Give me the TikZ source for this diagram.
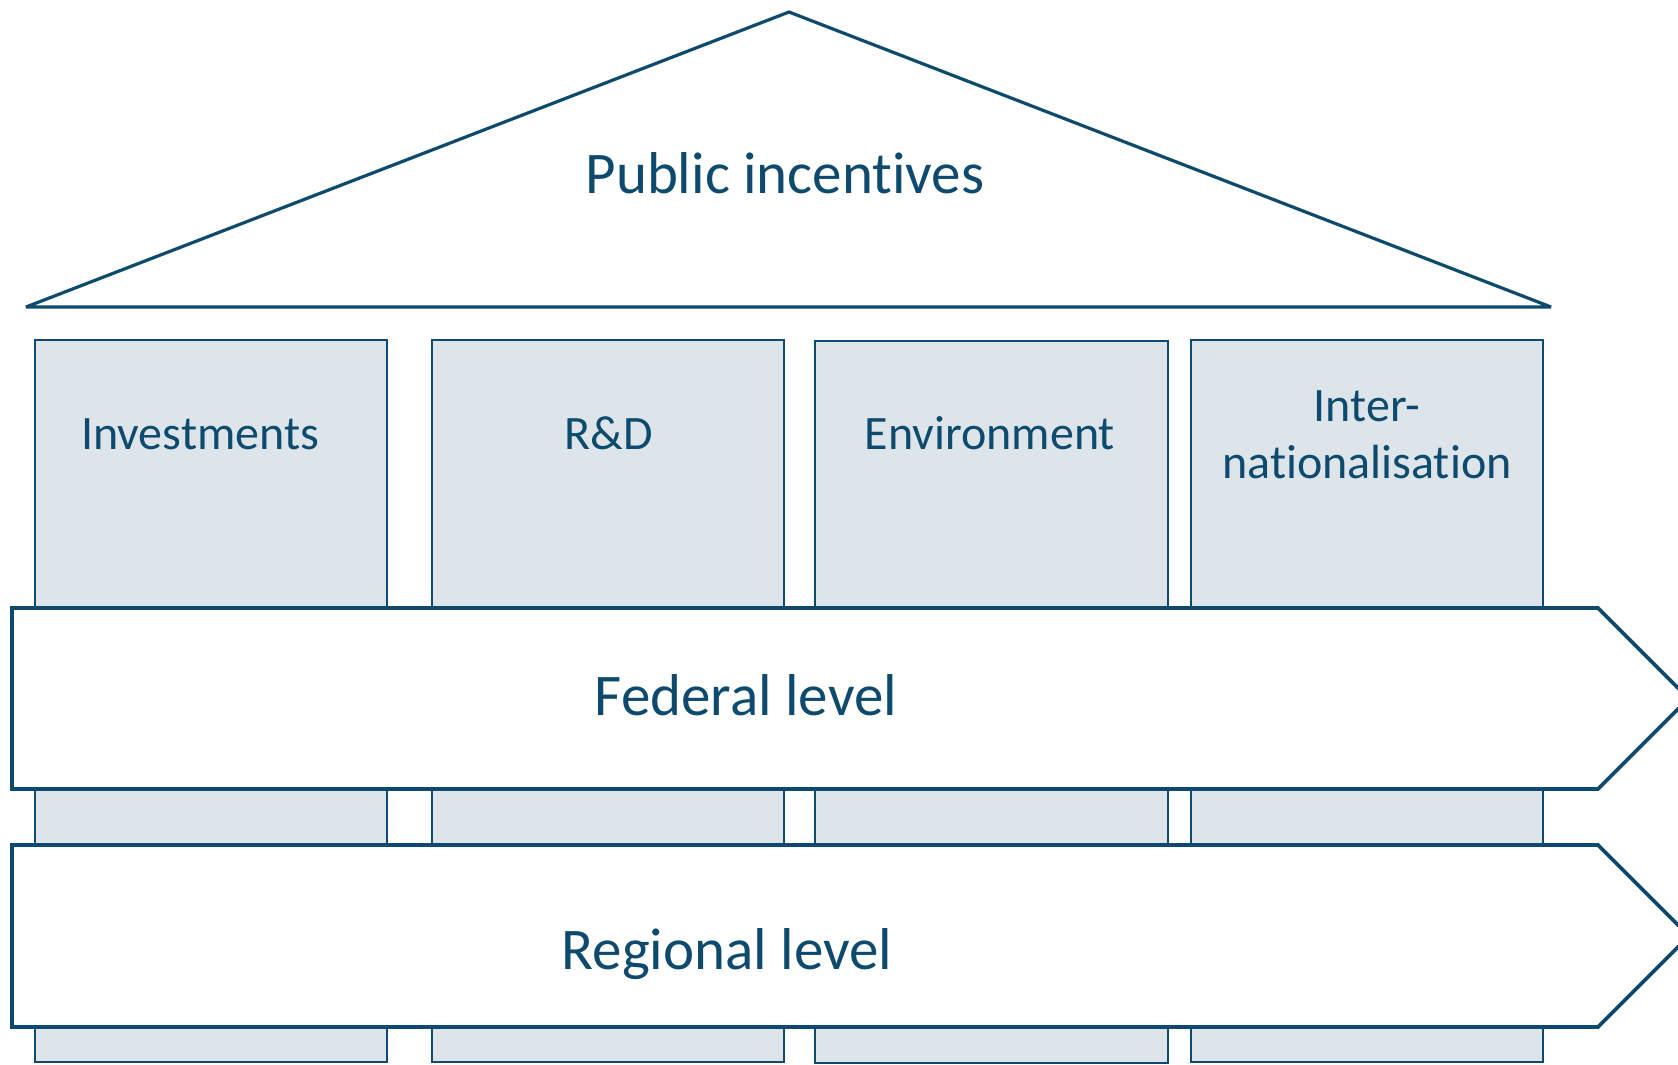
\documentclass[tikz,border=0pt]{standalone}
\usepackage{fontspec}
\setmainfont{Carlito}
\definecolor{navy}{HTML}{0D4A6D}
\definecolor{pale}{HTML}{DDE5EB}
\begin{document}
\begin{tikzpicture}[x=1pt,y=-1pt,
  pillar/.style={draw=navy,fill=pale,line width=2.6pt},
  band/.style={draw=navy,fill=white,line width=3.8pt,line join=miter},
  roof/.style={draw=navy,fill=white,line width=3.2pt,line join=miter,miter limit=3},
  lbl/.style={text=navy,anchor=base,inner sep=0pt},
  big/.style={lbl,font=\fontsize{59}{59}\selectfont},
  mid/.style={lbl,font=\fontsize{48}{58}\selectfont}]
\useasboundingbox (0,0) rectangle (1678,1065);
% pillars
\draw[pillar] (35,340) rectangle (387,1062);
\draw[pillar] (432,340) rectangle (784,1062);
\draw[pillar] (815,341) rectangle (1168,1063);
\draw[pillar] (1191,340) rectangle (1543,1062);
% roof
\draw[roof] (26,307) -- (789,12) -- (1551,307) -- cycle;
% bands
\draw[band] (12,608) -- (1598,608) -- (1688.5,698.5) -- (1598,789) -- (12,789) -- cycle;
\draw[band] (12,845) -- (1598,845) -- (1689,936) -- (1598,1027) -- (12,1027) -- cycle;
% labels
\node[big] (pub) at (785,193) {Public incent\kern0pt ives};
\node[mid] (inv) at (200,449) {Investments};
\node[mid] (rd) at (609,449) {R\&D};
\node[mid] (env) at (990,449) {Environment};
\node[mid] (int1) at (1367,421) {Inter-};
\node[mid] (int2) at (1367,478) {nat\kern0pt ionalisat\kern0pt ion};
\node[big] (fed) at (746,715) {Federal level};
\node[big] (reg) at (727,969) {Regional level};
\end{tikzpicture}
\end{document}
